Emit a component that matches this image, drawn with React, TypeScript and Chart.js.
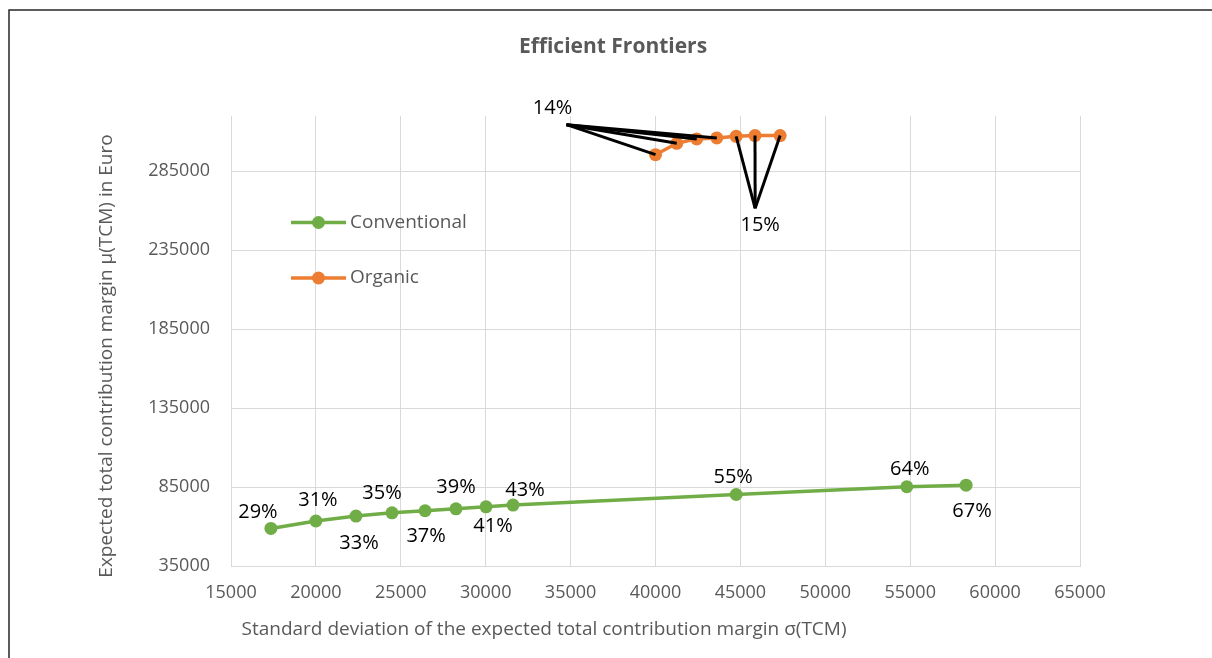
import React, { useEffect, useRef } from 'react';
import { Chart, registerables } from 'chart.js';

Chart.register(...registerables);

// ---- data ----
const conventionalSigma = [17350, 20000, 22360, 24480, 26430, 28250, 30020, 31610, 44750, 54800, 58290];
const conventionalMu = [58800, 63500, 66600, 68700, 70000, 71200, 72500, 73600, 80300, 85200, 86200];
const conventionalLabels = ['29%', '31%', '33%', '35%', '37%', '39%', '41%', '43%', '55%', '64%', '67%'];

const organicSigma = [40000, 41250, 42430, 43610, 44750, 45860, 47340];
const organicMu = [295500, 302700, 305500, 306100, 307100, 307600, 307600];
const organicLabels = ['14%', '14%', '14%', '14%', '15%', '15%', '15%'];

const xTicks = [15000, 20000, 25000, 30000, 35000, 40000, 45000, 50000, 55000, 60000, 65000];
const yTicks = [35000, 85000, 135000, 185000, 235000, 285000];

const seriesNames = ['Conventional', 'Organic'];
const chartTitle = 'Efficient Frontiers';
const xTitle = 'Standard deviation of the expected total contribution margin σ(TCM)';
const yTitle = 'Expected total contribution margin μ(TCM) in Euro';

// ---- styling / placement (not data) ----
const GREEN = '#70AD47';
const ORANGE = '#ED7D31';
const GRID = '#d9d9d9';
const TEXT = '#595959';
const FONT = '"Open Sans", "Noto Sans", sans-serif';

// label centre offsets (px) from each conventional point
const conventionalLabelOffsets: [number, number][] = [
  [-13, -16], [2, -21], [3, 27], [-10, -19], [1, 26], [0, -22],
  [7, 20], [12, -15], [-3, -17], [3, -17], [6, 26],
];
// grouped organic labels: offsets relative to the group's first point
const organicGroupPlacement: Record<string, { label: [number, number]; anchor: [number, number] }> = {
  '14%': { label: [-103, -46], anchor: [-89, -30] },
  '15%': { label: [24, 89], anchor: [19, 72] },
};

const framePlugin = {
  id: 'frame',
  beforeDraw(chart: any) {
    const ctx = chart.ctx;
    ctx.save();
    ctx.fillStyle = '#ffffff';
    ctx.fillRect(0, 0, chart.width, chart.height);
    ctx.strokeStyle = '#262626';
    ctx.lineWidth = 1.5;
    ctx.beginPath();
    ctx.moveTo(9, chart.height);
    ctx.lineTo(9, 10);
    ctx.lineTo(chart.width, 10);
    ctx.stroke();
    ctx.restore();
  },
};

const textPlugin = {
  id: 'texts',
  afterDraw(chart: any) {
    const ctx = chart.ctx;
    const { chartArea } = chart;
    ctx.save();
    // main title
    ctx.fillStyle = TEXT;
    ctx.font = `bold 21px ${FONT}`;
    ctx.textAlign = 'center';
    ctx.textBaseline = 'middle';
    ctx.fillText(chartTitle, 613, 47);
    // axis titles
    ctx.font = `19px ${FONT}`;
    ctx.fillText(xTitle, 544, 630);
    ctx.save();
    ctx.translate(107, 356);
    ctx.rotate(-Math.PI / 2);
    ctx.fillText(yTitle, 0, 0);
    ctx.restore();

    // legend inside plot
    const lx0 = chartArea.left + 60;
    const lx1 = chartArea.left + 115;
    const ys = [chartArea.top + 106.5, chartArea.top + 162];
    chart.data.datasets.forEach((ds: any, i: number) => {
      const y = ys[i];
      ctx.strokeStyle = ds.borderColor;
      ctx.lineWidth = 3.5;
      ctx.beginPath();
      ctx.moveTo(lx0, y);
      ctx.lineTo(lx1, y);
      ctx.stroke();
      ctx.fillStyle = ds.borderColor;
      ctx.beginPath();
      ctx.arc((lx0 + lx1) / 2, y, 6.5, 0, Math.PI * 2);
      ctx.fill();
      ctx.fillStyle = TEXT;
      ctx.font = `19px ${FONT}`;
      ctx.textAlign = 'left';
      ctx.fillText(ds.label, lx1 + 4, y);
    });
    ctx.restore();
  },
  afterDatasetsDraw(chart: any) {
    const ctx = chart.ctx;
    ctx.save();
    ctx.font = `20px ${FONT}`;
    ctx.fillStyle = '#000000';
    ctx.textAlign = 'center';
    ctx.textBaseline = 'middle';
    // conventional labels
    const m0 = chart.getDatasetMeta(0);
    m0.data.forEach((pt: any, i: number) => {
      const [dx, dy] = conventionalLabelOffsets[i] || [0, -20];
      ctx.fillText(conventionalLabels[i], pt.x + dx, pt.y + dy);
    });
    // organic grouped labels with leader lines
    const m1 = chart.getDatasetMeta(1);
    const groups: { text: string; idx: number[] }[] = [];
    organicLabels.forEach((t, i) => {
      const g = groups[groups.length - 1];
      if (g && g.text === t) g.idx.push(i);
      else groups.push({ text: t, idx: [i] });
    });
    groups.forEach((g) => {
      const place = organicGroupPlacement[g.text];
      const first = m1.data[g.idx[0]];
      const ax = first.x + place.anchor[0];
      const ay = first.y + place.anchor[1];
      ctx.strokeStyle = '#000000';
      ctx.lineWidth = 3;
      g.idx.forEach((i) => {
        const p = m1.data[i];
        ctx.beginPath();
        ctx.moveTo(ax, ay);
        ctx.lineTo(p.x, p.y);
        ctx.stroke();
      });
      ctx.fillText(g.text, first.x + place.label[0], first.y + place.label[1]);
    });
    ctx.restore();
  },
};

export default function App() {
  const canvasRef = useRef<HTMLCanvasElement | null>(null);

  useEffect(() => {
    if (!canvasRef.current) return;
    const conv = conventionalSigma.map((x, i) => ({ x, y: conventionalMu[i] }));
    const org = organicSigma.map((x, i) => ({ x, y: organicMu[i] }));
    const chart = new Chart(canvasRef.current, {
      type: 'scatter',
      data: {
        datasets: [
          {
            label: seriesNames[0],
            data: conv,
            showLine: true,
            borderColor: GREEN,
            backgroundColor: GREEN,
            borderWidth: 3.5,
            pointRadius: 6.5,
            pointBorderWidth: 0,
            pointHoverRadius: 6.5,
          },
          {
            label: seriesNames[1],
            data: org,
            showLine: true,
            borderColor: ORANGE,
            backgroundColor: ORANGE,
            borderWidth: 3.5,
            pointRadius: 6.5,
            pointBorderWidth: 0,
            pointHoverRadius: 6.5,
          },
        ],
      },
      options: {
        animation: false,
        responsive: false,
        devicePixelRatio: 1,
        layout: { padding: { top: 116, right: 132, left: 0, bottom: 0 } },
        plugins: {
          legend: { display: false },
          title: { display: false },
          tooltip: { enabled: false },
        },
        scales: {
          x: {
            type: 'linear',
            min: 15000,
            max: 65000,
            afterBuildTicks: (s: any) => {
              s.ticks = xTicks.map((v) => ({ value: v }));
            },
            afterFit: (s: any) => {
              s.height = 92;
            },
            grid: { color: GRID, lineWidth: 1, drawTicks: false },
            border: { color: GRID, width: 1 },
            ticks: {
              padding: 16,
              color: TEXT,
              font: { family: FONT, size: 18 },
              maxRotation: 0,
              callback: (v: any) => String(v),
            },
          },
          y: {
            type: 'linear',
            min: 35000,
            max: 320000,
            afterBuildTicks: (s: any) => {
              s.ticks = yTicks.map((v) => ({ value: v }));
            },
            afterFit: (s: any) => {
              s.width = 231;
            },
            grid: { color: GRID, lineWidth: 1, drawTicks: false },
            border: { color: GRID, width: 1 },
            ticks: {
              padding: 21,
              color: TEXT,
              font: { family: FONT, size: 18 },
              callback: (v: any) => String(v),
            },
          },
        },
      },
      plugins: [framePlugin, textPlugin],
    });
    let alive = true;
    const fonts = (document as any).fonts;
    if (fonts && fonts.load) {
      Promise.all([
        fonts.load(`18px "Open Sans"`),
        fonts.load(`bold 21px "Open Sans"`),
      ]).then(() => {
        if (alive) chart.update();
      }).catch(() => {});
    }
    return () => {
      alive = false;
      chart.destroy();
    };
  }, []);

  return (
    <div style={{ position: 'fixed', left: 0, top: 0, width: 1212, height: 658 }}>
      <canvas ref={canvasRef} width={1212} height={658} />
    </div>
  );
}
